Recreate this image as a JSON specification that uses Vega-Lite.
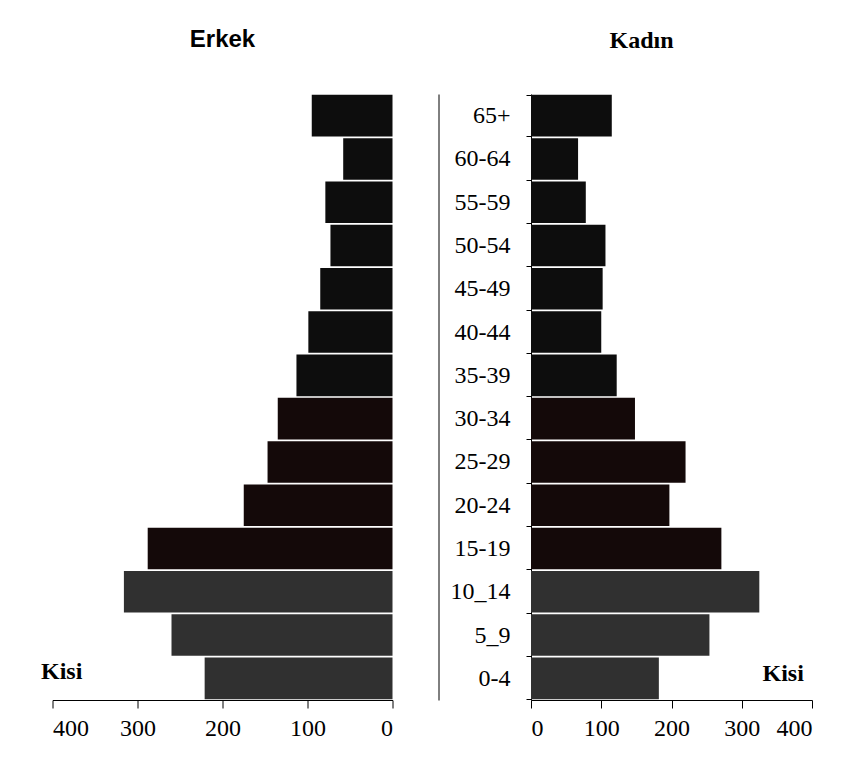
{
  "$schema": "https://vega.github.io/schema/vega-lite/v6.json",
  "background": "white",
  "padding": {"left": 40.5, "top": 28, "right": 5, "bottom": 5},
  "data": {
    "values": [
      {"age": "65+", "erkek": 95, "kadin": 115},
      {"age": "60-64", "erkek": 58, "kadin": 67},
      {"age": "55-59", "erkek": 79, "kadin": 78},
      {"age": "50-54", "erkek": 73, "kadin": 106},
      {"age": "45-49", "erkek": 85, "kadin": 102},
      {"age": "40-44", "erkek": 99, "kadin": 100},
      {"age": "35-39", "erkek": 113, "kadin": 122},
      {"age": "30-34", "erkek": 135, "kadin": 148},
      {"age": "25-29", "erkek": 147, "kadin": 220},
      {"age": "20-24", "erkek": 175, "kadin": 197},
      {"age": "15-19", "erkek": 288, "kadin": 271},
      {"age": "10_14", "erkek": 316, "kadin": 325},
      {"age": "5_9", "erkek": 260, "kadin": 254},
      {"age": "0-4", "erkek": 221, "kadin": 182}
    ]
  },
  "spacing": 11.5,
  "resolve": {"scale": {"x": "independent", "y": "independent"}},
  "config": {
    "view": {"stroke": null},
    "font": "Liberation Serif",
    "axis": {
      "labelFont": "Liberation Serif",
      "labelFontSize": 24,
      "labelColor": "black",
      "domainColor": "black",
      "tickColor": "black",
      "grid": false
    }
  },
  "hconcat": [
    {
      "width": 340,
      "height": 606,
      "title": {"text": "Erkek", "font": "Liberation Sans", "fontSize": 24, "fontWeight": "bold", "baseline": "alphabetic", "offset": 23, "color": "black"},
      "mark": {"type": "bar"},
      "encoding": {
        "y": {
          "field": "age", "type": "nominal", "sort": null,
          "scale": {"paddingInner": 0.04, "paddingOuter": 0.02},
          "axis": {"orient": "right", "offset": 46, "labels": false, "ticks": false, "title": null}
        },
        "x": {
          "field": "erkek", "type": "quantitative",
          "scale": {"domain": [0, 400], "reverse": true},
          "axis": {
            "values": [0, 100, 200, 300, 400], "tickSize": 8, "labelPadding": 8,
            "title": "Kisi", "titleX": -12, "titleY": -22, "titleAlign": "left", "titleBaseline": "alphabetic",
            "titleFont": "Liberation Serif", "titleFontSize": 24, "titleFontWeight": "bold", "titleColor": "black"
          }
        },
        "color": {
          "condition": [
            {"test": "indexof(['10_14','5_9','0-4'], datum.age) >= 0", "value": "#303030"},
            {"test": "indexof(['30-34','25-29','20-24','15-19'], datum.age) >= 0", "value": "#140909"}
          ],
          "value": "#0d0d0d"
        }
      }
    },
    {
      "width": 281,
      "height": 606,
      "title": {"text": "Kadın", "font": "Liberation Serif", "fontSize": 24, "fontWeight": "bold", "baseline": "alphabetic", "offset": 23, "dx": -30, "dy": 13, "color": "black"},
      "mark": {"type": "bar"},
      "encoding": {
        "y": {
          "field": "age", "type": "nominal", "sort": null,
          "scale": {"paddingInner": 0.04, "paddingOuter": 0.02},
          "axis": {"orient": "left", "tickBand": "extent", "tickSize": 5, "labelPadding": 16, "title": null}
        },
        "x": {
          "field": "kadin", "type": "quantitative",
          "scale": {"domain": [0, 400]},
          "axis": {
            "values": [0, 100, 200, 300, 400], "tickSize": 8, "labelPadding": 8,
            "title": "Kisi", "titleX": 231, "titleY": -20, "titleAlign": "left", "titleBaseline": "alphabetic",
            "titleFont": "Liberation Serif", "titleFontSize": 24, "titleFontWeight": "bold", "titleColor": "black"
          }
        },
        "color": {
          "condition": [
            {"test": "indexof(['10_14','5_9','0-4'], datum.age) >= 0", "value": "#303030"},
            {"test": "indexof(['30-34','25-29','20-24','15-19'], datum.age) >= 0", "value": "#140909"}
          ],
          "value": "#0d0d0d"
        }
      }
    }
  ]
}
